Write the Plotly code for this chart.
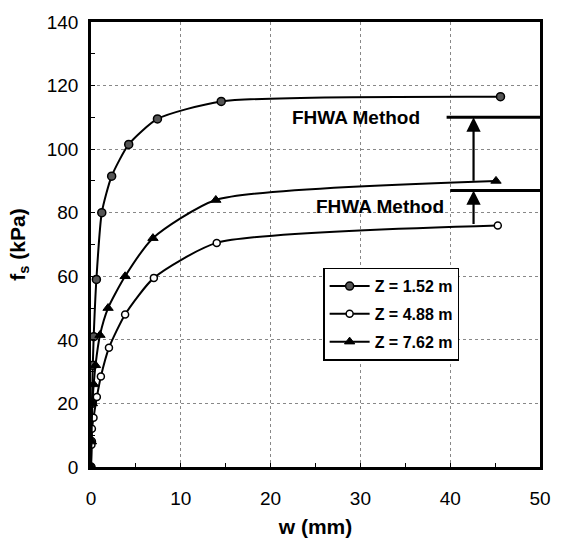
import plotly.graph_objects as go

# ---- data ----
w_152 = [0, 0.05, 0.1, 0.2, 0.3, 0.6, 1.2, 2.3, 4.2, 7.4, 14.5, 45.6]
fs_152 = [0, 8, 20, 32, 41, 59, 80, 91.5, 101.5, 109.5, 115, 116.5]

w_488 = [0, 0.05, 0.1, 0.28, 0.65, 1.1, 2.0, 3.8, 7.0, 14.0, 45.3]
fs_488 = [0, 7, 12, 15.5, 22, 28.5, 37.5, 48, 59.5, 70.5, 76]

w_762 = [0, 0.05, 0.15, 0.3, 0.5, 1.0, 1.9, 3.8, 6.9, 13.9, 45.1]
fs_762 = [0, 8, 20, 26, 32, 41.5, 50, 60, 72, 84, 90]

labels = ["Z = 1.52 m", "Z = 4.88 m", "Z = 7.62 m"]

# FHWA method levels
fhwa_levels = [110, 87]
fhwa_x_start = [39.6, 40.0]
fhwa_arrow_x = 42.6
fhwa_arrow_from = [89.6, 76.0]
fhwa_text_x = [29.5, 32.2]
fhwa_text_y = [110, 82]
fhwa_text = "FHWA Method"

FONT = "Liberation Sans, Arial"

fig = go.Figure()
fig.add_trace(go.Scatter(x=w_152, y=fs_152, mode="lines+markers", name="<b>" + labels[0] + "</b>",
                         legendgroup="a",
                         line=dict(color="black", width=2, shape="spline", smoothing=0.6),
                         marker=dict(symbol="circle", size=8, color="#555555",
                                     line=dict(color="black", width=1.5))))
fig.add_trace(go.Scatter(x=w_488, y=fs_488, mode="lines+markers", name="<b>" + labels[1] + "</b>",
                         legendgroup="b",
                         line=dict(color="black", width=2, shape="spline", smoothing=0.6),
                         marker=dict(symbol="circle", size=7, color="white",
                                     line=dict(color="black", width=1.5))))
fig.add_trace(go.Scatter(x=w_762, y=fs_762, mode="lines+markers", name="<b>" + labels[2] + "</b>",
                         legendgroup="c",
                         line=dict(color="black", width=2, shape="spline", smoothing=0.6),
                         marker=dict(symbol="triangle-up", size=9, color="black",
                                     line=dict(color="black", width=1))))

for lvl, xs in zip(fhwa_levels, fhwa_x_start):
    fig.add_shape(type="line", x0=xs, x1=50, y0=lvl, y1=lvl, xref="x", yref="y",
                  line=dict(color="black", width=3))

for lvl, y0 in zip(fhwa_levels, fhwa_arrow_from):
    fig.add_annotation(x=fhwa_arrow_x, y=lvl, ax=fhwa_arrow_x, ay=y0,
                       xref="x", yref="y", axref="x", ayref="y",
                       showarrow=True, arrowhead=2, arrowsize=1.3, arrowwidth=2.2,
                       arrowcolor="black", text="")

for tx, ty in zip(fhwa_text_x, fhwa_text_y):
    fig.add_annotation(x=tx, y=ty, xref="x", yref="y", text="<b>" + fhwa_text + "</b>",
                       showarrow=False, font=dict(family=FONT, size=19, color="black"))

axis_common = dict(showline=True, linewidth=2.5, linecolor="black", mirror=True,
                   showgrid=True, gridcolor="#888888", griddash="dot", gridwidth=1,
                   zeroline=False, ticks="inside", ticklen=4, tickcolor="black",
                   tickfont=dict(family=FONT, size=19, color="black"))

fig.update_xaxes(range=[0, 50], dtick=10, **axis_common, ticklabelstandoff=12,
                 minor=dict(dtick=5, ticks="inside", ticklen=4, tickcolor="black", showgrid=False),
                 title=dict(text="<b>w (mm)</b>", font=dict(family=FONT, size=21, color="black"),
                            standoff=12))
fig.update_yaxes(range=[0, 140], dtick=20, **axis_common, ticklabelstandoff=6,
                 minor=dict(dtick=10, ticks="inside", ticklen=4, tickcolor="black", showgrid=False),
                 title=dict(text="<b>f<sub>s</sub> (kPa)</b>", font=dict(family=FONT, size=21, color="black"),
                            standoff=16))

fig.update_layout(
    width=563, height=550,
    margin=dict(l=91, r=12, t=16, b=83),
    plot_bgcolor="white", paper_bgcolor="white",
    legend=dict(x=0.517, y=0.448, xanchor="left", yanchor="top",
                bordercolor="black", borderwidth=1.5, bgcolor="white",
                font=dict(family=FONT, size=16, color="black"),
                itemwidth=40, tracegroupgap=4, entrywidth=125),
    font=dict(family=FONT, color="black"),
)

fig.write_html("out.html")
